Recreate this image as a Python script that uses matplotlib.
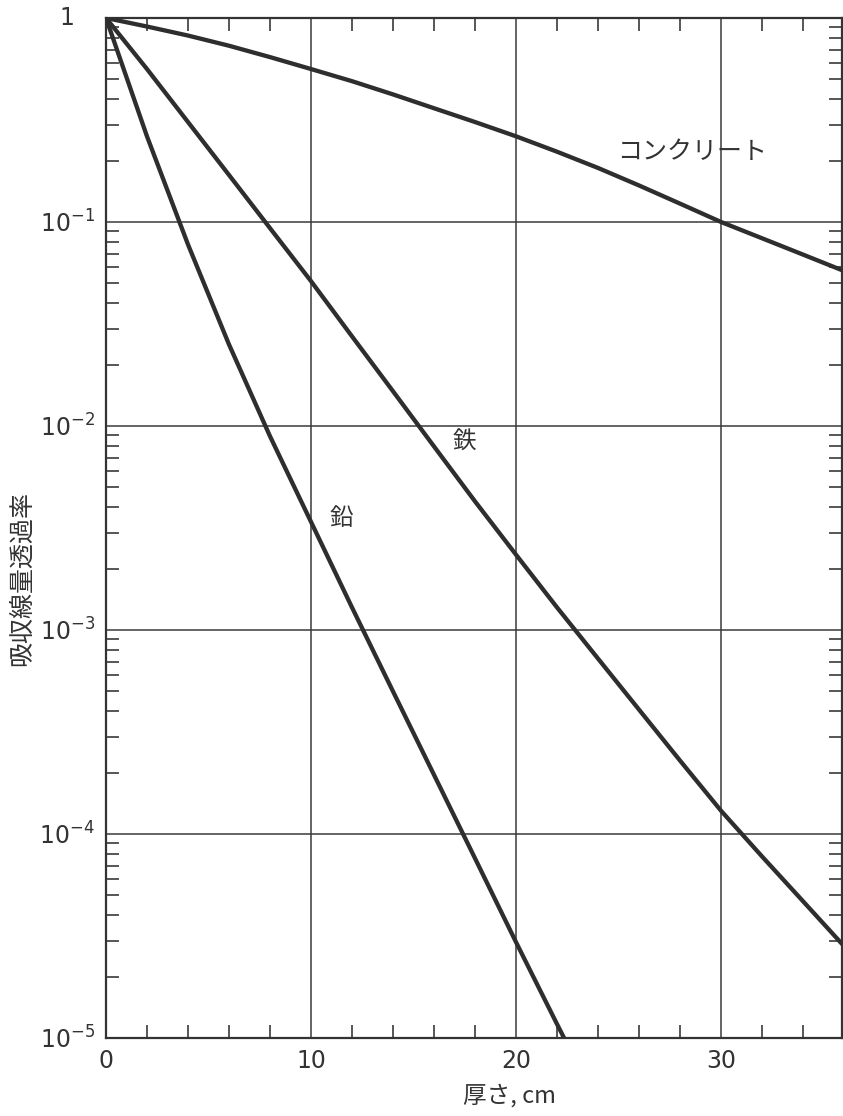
import matplotlib
matplotlib.use("Agg")
import matplotlib.pyplot as plt
from matplotlib.ticker import FixedLocator, LogLocator, NullFormatter

plt.rcParams['font.family'] = ['Noto Sans CJK JP', 'DejaVu Sans']

# 厚さ (cm) と吸収線量透過率
thick_concrete = [0, 2, 4, 6, 8, 10, 12, 14, 16, 18, 20, 22, 24, 26, 28, 30, 32, 34, 36]
trans_concrete = [1.0, 0.908, 0.820, 0.731, 0.643, 0.562, 0.490, 0.422, 0.361, 0.309,
                  0.263, 0.221, 0.184, 0.151, 0.123, 0.100, 0.0832, 0.0692, 0.0575]

thick_iron = [0, 2, 4, 6, 8, 10, 12, 14, 16, 18, 20, 22, 24, 26, 28, 30, 32, 34, 36]
trans_iron = [1.0, 0.562, 0.309, 0.170, 0.0933, 0.0513, 0.0275, 0.0148, 0.00794,
              0.00427, 0.00234, 0.00129, 7.24e-4, 4.07e-4, 2.29e-4, 1.30e-4,
              7.76e-5, 4.68e-5, 2.82e-5]

thick_lead = [0, 2, 4, 6, 8, 10, 12, 14, 16, 18, 20, 22, 22.6]
trans_lead = [1.0, 0.263, 0.0776, 0.0251, 0.00891, 0.00339, 0.00129, 5.0e-4,
              1.95e-4, 7.6e-5, 2.95e-5, 1.17e-5, 8.9e-6]

x_major = [0, 10, 20, 30]
y_major = [1e-5, 1e-4, 1e-3, 1e-2, 1e-1, 1]
y_labels = [r'$10^{-5}$', r'$10^{-4}$', r'$10^{-3}$', r'$10^{-2}$', r'$10^{-1}$', '']

ink = '#2e2e2e'
txt = '#333333'

fig = plt.figure(figsize=(8.43, 11.16), dpi=100)
ax = fig.add_axes([0.1257, 0.0699, 0.8731, 0.914])

for xs, ys in [(thick_concrete, trans_concrete), (thick_iron, trans_iron),
               (thick_lead, trans_lead)]:
    ax.plot(xs, ys, color=ink, lw=3.1, solid_capstyle='round', zorder=3)

ax.set_yscale('log')
ax.set_xlim(0, 35.9)
ax.set_ylim(1e-5, 1)

ax.xaxis.set_major_locator(FixedLocator(x_major))
ax.xaxis.set_minor_locator(FixedLocator([v for v in range(2, 36, 2) if v % 10]))
ax.yaxis.set_major_locator(FixedLocator(y_major))
ax.set_yticklabels(y_labels)
ax.yaxis.set_minor_locator(LogLocator(base=10, subs=range(2, 10)))
ax.yaxis.set_minor_formatter(NullFormatter())

ax.grid(True, which='major', color='#3a3a3a', lw=1.1)
ax.tick_params(which='major', length=0, pad=8, labelsize=17, colors=txt,
               labelfontfamily='DejaVu Sans')
ax.tick_params(which='minor', direction='in', length=9.5, width=1.2,
               color='#3a3a3a', top=True, right=True)

for s in ax.spines.values():
    s.set_color(txt)
    s.set_linewidth(1.6)

# the top label "1" sits under the "0" of the other labels
ax.text(-0.0435, 1, '1', transform=ax.get_yaxis_transform(), fontsize=17,
        ha='right', va='center', color=txt, family='DejaVu Sans')

ax.text(28.6, 0.22, 'コンクリート', fontsize=18, ha='center', va='center', color=txt)
ax.text(17.5, 0.0083, '鉄', fontsize=17, ha='center', va='center', color=txt)
ax.text(11.5, 0.0035, '鉛', fontsize=17, ha='center', va='center', color=txt)

ax.set_xlabel('厚さ, cm', fontsize=17, color=txt)
ax.xaxis.set_label_coords(0.548, -0.045)
ax.set_ylabel('吸収線量透過率', fontsize=18, color=txt)
ax.yaxis.set_label_coords(-0.097, 0.45)

fig.savefig('out.png', dpi=100)
